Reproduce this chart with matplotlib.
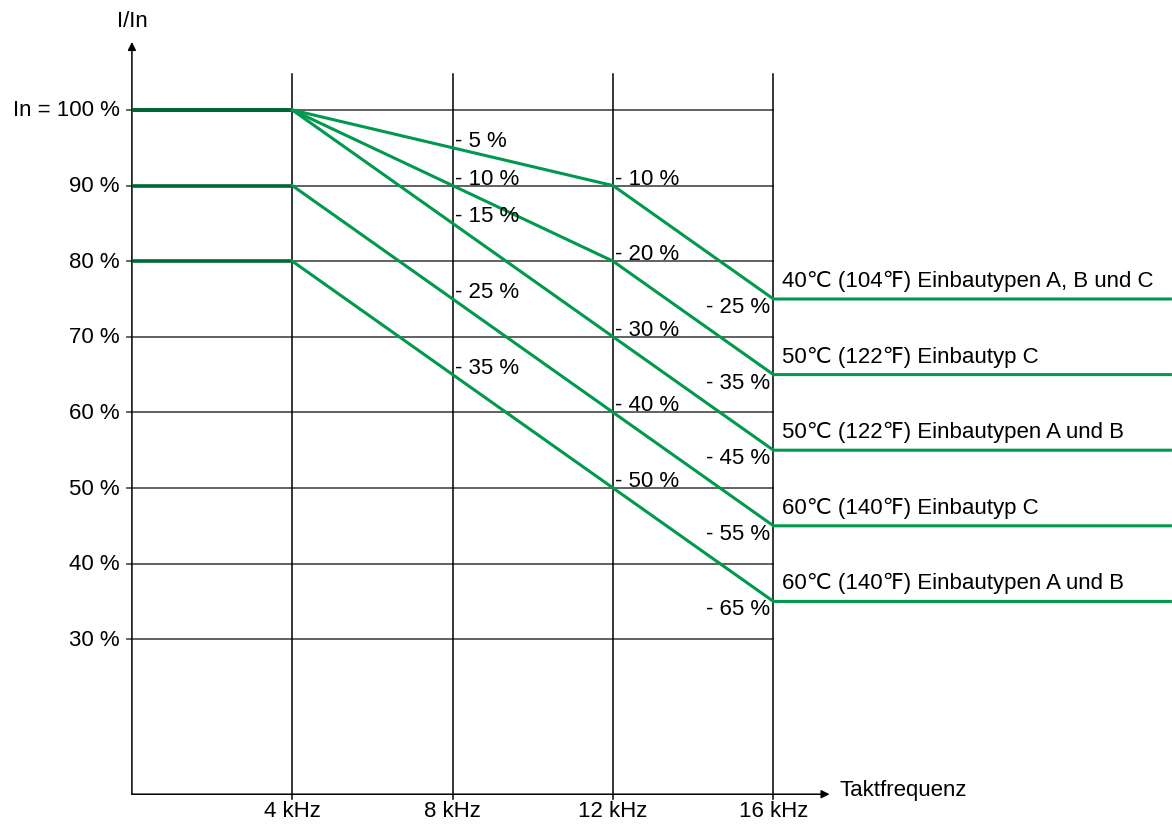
#!/usr/bin/env python3
"""
Derating curve: I/In vs. Taktfrequenz
"""
import matplotlib.pyplot as plt

plt.rcParams['font.family'] = ['Liberation Sans', 'DejaVu Sans']

# Data
freq_pts = [4, 8, 12, 16]            # kHz
freq_end = 25.9                      # flat tail to the right edge
curve_labels = [
    '40℃ (104℉) Einbautypen A, B und C',
    '50℃ (122℉) Einbautyp C',
    '50℃ (122℉) Einbautypen A und B',
    '60℃ (140℉) Einbautyp C',
    '60℃ (140℉) Einbautypen A und B',
]
curve_values = [
    [100, 95, 90, 75],
    [100, 90, 80, 65],
    [100, 85, 70, 55],
    [90, 75, 60, 45],
    [80, 65, 50, 35],
]
y_ticks = [100, 90, 80, 70, 60, 50, 40, 30]
y_ticklabels = ['In = 100 %', '90 %', '80 %', '70 %', '60 %', '50 %', '40 %', '30 %']
x_ticks = [4, 8, 12, 16]
x_ticklabels = ['4 kHz', '8 kHz', '12 kHz', '16 kHz']

GREEN = '#00994d'
DARK_GREEN = '#006633'
FS = 16

fig = plt.figure(figsize=(11.72, 8.29), dpi=100)
ax = fig.add_axes([0, 0, 1, 1])
ax.set_xlim(-3.29, 25.94)
ax.set_ylim(5.03, 114.68)
ax.axis('off')

x_bottom = 9.5

# Grid
for y in y_ticks:
    ax.plot([-0.12, 16], [y, y], color='#555555', lw=1.3, zorder=1)
for x in x_ticks:
    ax.plot([x, x], [x_bottom - 0.6, 104.8], color='black', lw=1.1, zorder=1)

# Axes with arrows
ax.annotate('', xy=(0, 109.0), xytext=(0, x_bottom),
            arrowprops=dict(arrowstyle='-|>', color='black', lw=1.1,
                            mutation_scale=12, shrinkA=0, shrinkB=0))
ax.annotate('', xy=(17.4, x_bottom), xytext=(0, x_bottom),
            arrowprops=dict(arrowstyle='-|>', color='black', lw=1.1,
                            mutation_scale=12, shrinkA=0, shrinkB=0))

# Curves
for vals, lab in zip(curve_values, curve_labels):
    ax.plot([0, freq_pts[0]], [vals[0], vals[0]], color=DARK_GREEN, lw=2.6,
            solid_capstyle='butt', zorder=3)
    ax.plot(freq_pts + [freq_end], vals + [vals[-1]], color=GREEN, lw=2.2,
            solid_joinstyle='miter', zorder=3)
    ax.annotate(lab, xy=(16, vals[-1]), xytext=(9, 8), textcoords='offset pixels',
                ha='left', va='bottom', fontsize=FS)
    # percentage reductions
    for x, v in zip(freq_pts[1:3], vals[1:3]):
        ax.annotate(f'- {100 - v} %', xy=(x, v), xytext=(2, -3),
                    textcoords='offset pixels', ha='left', va='bottom', fontsize=FS)
    ax.annotate(f'- {100 - vals[-1]} %', xy=(16, vals[-1]), xytext=(-3, 3),
                textcoords='offset pixels', ha='right', va='top', fontsize=FS)

# Tick labels
for y, lab in zip(y_ticks, y_ticklabels):
    ax.annotate(lab, xy=(0, y), xytext=(-12, 0), textcoords='offset pixels',
                ha='right', va='center', fontsize=FS)
for x, lab in zip(x_ticks, x_ticklabels):
    ax.annotate(lab, xy=(x, x_bottom), xytext=(0, -16), textcoords='offset pixels',
                ha='center', va='center', fontsize=FS)

ax.text(0, 111.9, 'I/In', ha='center', va='center', fontsize=FS)
ax.annotate('Taktfrequenz', xy=(17.4, x_bottom), xytext=(10, 5),
            textcoords='offset pixels', ha='left', va='center', fontsize=FS)

plt.savefig('out.png', dpi=100)
